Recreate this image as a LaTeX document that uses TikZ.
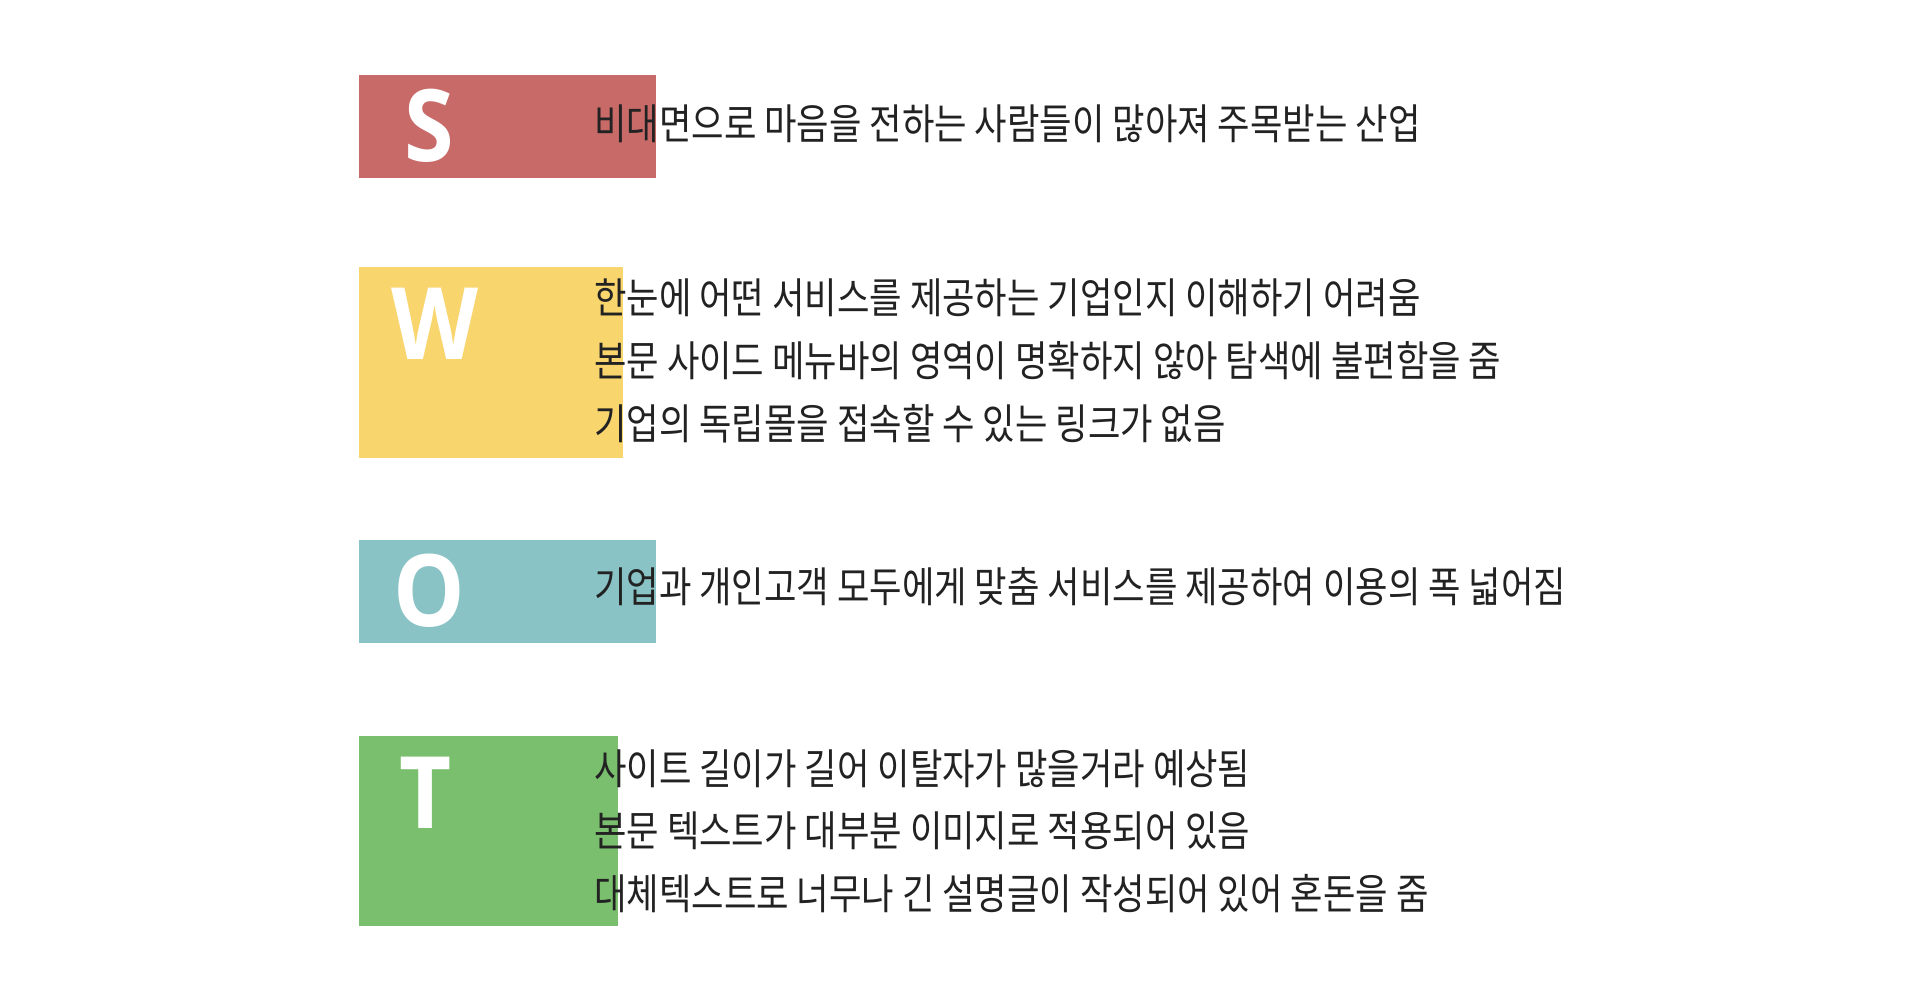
\documentclass[tikz,border=0pt]{standalone}
\usepackage{fontspec}
\newfontfamily\krfont[FakeStretch=0.84]{Noto Sans CJK KR}
\newfontfamily\letterfont[FakeStretch=0.9]{Open Sans}
\definecolor{sred}{HTML}{C86A68}
\definecolor{wyellow}{HTML}{F9D56E}
\definecolor{oteal}{HTML}{89C3C6}
\definecolor{tgreen}{HTML}{7ABF6E}
\definecolor{txt}{HTML}{222222}
\tikzset{
  px/.style={x=1pt,y=-1pt},
  swotletter/.style={text=white,inner sep=0pt,font=\letterfont\bfseries\fontsize{100}{100}\selectfont},
  swottext/.style={text=txt,anchor=west,inner sep=0pt,font=\krfont\fontsize{42}{42}\selectfont}
}
\begin{document}
\begin{tikzpicture}[px]
\useasboundingbox (0,0) rectangle (1920,1000);
\fill[white] (0,0) rectangle (1920,1000);
% boxes
\fill[sred] (359,75) rectangle (656,178);
\fill[wyellow] (359,267) rectangle (623,458);
\fill[oteal] (359,540) rectangle (656,643);
\fill[tgreen] (359,736) rectangle (618,926);
% letters
\node[swotletter] (ls) at (429,126) {S};
\node[swotletter] (lw) at (435,324) {W};
\node[swotletter] (lo) at (429,591) {O};
\node[swotletter] (lt) at (426,793) {T};
% texts
\node[swottext] (s1) at (594,124) {비대면으로 마음을 전하는 사람들이 많아져 주목받는 산업};
\node[swottext] (w1) at (594,298) {한눈에 어떤 서비스를 제공하는 기업인지 이해하기 어려움};
\node[swottext] (w2) at (594,361) {본문 사이드 메뉴바의 영역이 명확하지 않아 탐색에 불편함을 줌};
\node[swottext] (w3) at (594,424) {기업의 독립몰을 접속할 수 있는 링크가 없음};
\node[swottext] (o1) at (594,587) {기업과 개인고객 모두에게 맞춤 서비스를 제공하여 이용의 폭 넓어짐};
\node[swottext] (t1) at (594,769) {사이트 길이가 길어 이탈자가 많을거라 예상됨};
\node[swottext] (t2) at (594,831) {본문 텍스트가 대부분 이미지로 적용되어 있음};
\node[swottext] (t3) at (594,894) {대체텍스트로 너무나 긴 설명글이 작성되어 있어 혼돈을 줌};
\end{tikzpicture}
\end{document}
